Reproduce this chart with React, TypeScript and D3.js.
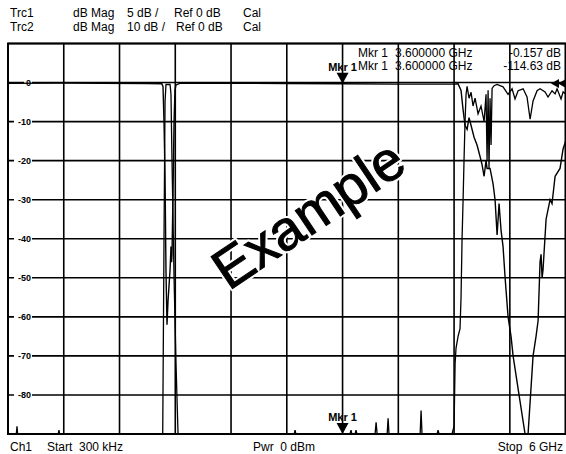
import React, { useEffect, useRef } from 'react';
import * as d3 from 'd3';

// Header / footer annotation text
const trc1Header = ['Trc1', 'dB Mag', '5 dB /', 'Ref 0 dB', 'Cal'];
const trc2Header = ['Trc2', 'dB Mag', '10 dB /', 'Ref 0 dB', 'Cal'];
const footer = ['Ch1', 'Start  300 kHz', 'Pwr  0 dBm', 'Stop  6 GHz'];

// Sweep (GHz)
const startGHz = 0.0003;
const stopGHz = 6;

// Marker 1
const mkrFreq = 3.6;
const mkrTrc1 = -0.157;
const mkrTrc2 = -114.63;

// Trc1, 5 dB/div, [GHz, dB]
const trc1: [number, number][] = [
  [0.0003, -0.1], [0.6, -0.05], [1.0, -0.1], [1.5, -0.12], [1.655, -0.15],
  [1.668, -0.5], [1.679, -5], [1.69, -12], [1.7, -24], [1.711, -31], [1.722, -28],
  [1.733, -26], [1.744, -24], [1.754, -21], [1.76, -23], [1.765, -22], [1.776, -14],
  [1.787, -5], [1.797, -1], [1.808, -0.3], [1.85, -0.1],
  [2.5, -0.1], [3.0, -0.12], [3.6, -0.157], [4.2, -0.2], [4.6, -0.2], [4.8, -0.2], [4.843, -0.15],
  [4.875, -1], [4.897, -3.5], [4.918, -5.5], [4.94, -6], [4.961, -4.5], [4.983, -5.5],
  [5.015, -7], [5.047, -8], [5.08, -9.5], [5.101, -10.5], [5.123, -12], [5.144, -10],
  [5.155, -11], [5.187, -11], [5.22, -13], [5.241, -15], [5.263, -19.5], [5.284, -15.5],
  [5.306, -19], [5.327, -21], [5.349, -25], [5.381, -30], [5.413, -32.5], [5.435, -35],
  [5.499, -40], [5.564, -46],
  [5.596, -45], [5.65, -35], [5.682, -32.5], [5.704, -30.5], [5.725, -23], [5.736, -22],
  [5.747, -25], [5.757, -24], [5.79, -17.5], [5.833, -15], [5.854, -15.5], [5.887, -12],
  [5.94, -11], [5.973, -8.5], [6.0, -7.5],
];

// Trc2, 10 dB/div, [GHz, dB]
const trc2: [number, number][] = [
  [0.0003, -100], [0.09, -100], [0.097, -88], [0.104, -100], [0.54, -100], [0.549, -89],
  [0.556, -100], [1.655, -100], [1.665, -90], [1.679, -40], [1.69, -5], [1.7, -0.5],
  [1.744, -0.5], [1.754, -3], [1.765, -20], [1.787, -50], [1.808, -72], [1.83, -90],
  [1.851, -100],
  [3.08, -100], [3.089, -89], [3.098, -100], [3.68, -100], [3.691, -89], [3.7, -100],
  [3.735, -100], [3.745, -89], [3.755, -100], [3.95, -100], [3.961, -87], [3.972, -100],
  [4.08, -100], [4.09, -86], [4.1, -100], [4.435, -100], [4.445, -84], [4.455, -100],
  [4.618, -100], [4.628, -89], [4.638, -100],
  [4.778, -100], [4.8, -88], [4.811, -72], [4.821, -68], [4.843, -65], [4.864, -63],
  [4.875, -55], [4.886, -40], [4.897, -30], [4.907, -20], [4.918, -10], [4.929, -3],
  [4.94, -1], [4.961, -4], [4.983, -2.5], [5.004, -6], [5.026, -4], [5.058, -8],
  [5.09, -6], [5.123, -10], [5.144, -3], [5.155, -20], [5.166, -2], [5.176, -22],
  [5.187, -4], [5.198, -16], [5.209, -1.5], [5.23, -0.8], [5.263, -0.5], [5.327, -1.1],
  [5.381, -3], [5.424, -1.6], [5.456, -4.2], [5.489, -2.1], [5.543, -1.6], [5.585, -3.7],
  [5.618, -9.4], [5.65, -4.7], [5.693, -2.1], [5.725, -1.6], [5.779, -2.4], [5.811, -3.7],
  [5.854, -2.1], [5.887, -2.9], [5.908, -1.6], [5.951, -4.2], [5.973, -2.4], [6.0, -2.9],
];

const FONT = '"Liberation Sans", Arial, sans-serif';

const VnaPlot: React.FC<{ width?: number; height?: number }> = ({ width = 566, height = 454 }) => {
  const svgRef = useRef<SVGSVGElement>(null);

  useEffect(() => {
    if (!svgRef.current) return;
    const svg = d3.select(svgRef.current);
    svg.selectAll('*').remove();

    const left = 8;
    const right = 565.6;
    const top = 43.5;
    const bottom = 434;

    const x = d3.scaleLinear().domain([startGHz, stopGHz]).range([left, right]);
    const y1 = d3.scaleLinear().domain([5, -45]).range([top, bottom]).clamp(true);
    const y2 = d3.scaleLinear().domain([10, -90]).range([top, bottom]).clamp(true);

    svg.append('rect').attr('width', width).attr('height', height).attr('fill', '#fff');

    // Header
    const cols = [10, 73, 127, 174, 243];
    [trc1Header, trc2Header].forEach((row, r) => {
      row.forEach((t, i) => {
        svg.append('text')
          .attr('x', cols[i] + (r === 1 && i === 3 ? 2 : 0))
          .attr('y', 17 + r * 14)
          .attr('font-family', FONT)
          .attr('font-size', 12)
          .attr('fill', '#000')
          .text(t);
      });
    });

    // Grid
    const g = svg.append('g');
    const xDivs = d3.range(11).map(i => x(startGHz + (i * (stopGHz - startGHz)) / 10));
    g.selectAll('line.v')
      .data(xDivs)
      .join('line')
      .attr('x1', d => d).attr('x2', d => d)
      .attr('y1', top).attr('y2', bottom)
      .attr('stroke', '#000').attr('stroke-width', 1.6);
    g.selectAll('line.h')
      .data(d3.range(10, -91, -10))
      .join('line')
      .attr('x1', left).attr('x2', right)
      .attr('y1', d => y2(d)).attr('y2', d => y2(d))
      .attr('stroke', '#000').attr('stroke-width', 1.6);
    g.append('rect')
      .attr('x', left).attr('y', top)
      .attr('width', right - left).attr('height', bottom - top)
      .attr('fill', 'none').attr('stroke', '#000').attr('stroke-width', 2);

    // Y labels (10 dB/div)
    const labels = g.selectAll('g.lbl')
      .data(d3.range(0, -81, -10))
      .join('g')
      .attr('transform', d => `translate(31,${y2(d)})`);
    labels.append('rect')
      .attr('x', d => (d === 0 ? -7 : -17)).attr('y', -4)
      .attr('width', d => (d === 0 ? 8 : 18)).attr('height', 8)
      .attr('fill', '#fff');
    labels.append('text')
      .attr('text-anchor', 'end')
      .attr('dy', '0.35em')
      .attr('font-family', FONT)
      .attr('font-size', 9)
      .attr('font-weight', 'bold')
      .text(d => `${d}`);

    // Watermark: white halo, then heavy black glyphs
    const wm = svg.append('g').attr('transform', 'translate(308,214) rotate(-34)');
    wm.append('text')
      .attr('text-anchor', 'middle')
      .attr('dy', '0.35em')
      .attr('font-family', FONT)
      .attr('font-size', 56)
      .attr('fill', '#000')
      .attr('stroke', '#fff')
      .attr('stroke-width', 5)
      .attr('stroke-linejoin', 'round')
      .text('Example');
    wm.append('text')
      .attr('text-anchor', 'middle')
      .attr('dy', '0.35em')
      .attr('font-family', FONT)
      .attr('font-size', 56)
      .attr('fill', '#000')
      .attr('stroke', '#000')
      .attr('stroke-width', 1)
      .text('Example');

    // Traces
    const line1 = d3.line<[number, number]>().x(d => x(d[0])).y(d => y1(d[1]));
    const line2 = d3.line<[number, number]>().x(d => x(d[0])).y(d => y2(d[1]));
    svg.append('path').datum(trc2)
      .attr('fill', 'none').attr('stroke', '#000').attr('stroke-width', 1.3)
      .attr('d', line2);
    svg.append('path').datum(trc1)
      .attr('fill', 'none').attr('stroke', '#000').attr('stroke-width', 1.4)
      .attr('d', line1);

    // Reference level arrows at right edge
    [551, 558].forEach(tx => {
      svg.append('path')
        .attr('d', `M${tx},${y2(0) + 1}l8,-4.5v9z`)
        .attr('fill', '#000');
    });

    // Marker 1 (Trc1 at top, Trc2 clamped at bottom)
    const mx = x(mkrFreq);
    const m1y = y1(mkrTrc1);
    const m2y = y2(mkrTrc2);
    [m1y, m2y].forEach(ty => {
      svg.append('path')
        .attr('d', `M${mx},${ty}l-6,-11h12z`)
        .attr('fill', '#000');
      svg.append('text')
        .attr('x', mx)
        .attr('y', ty - 13)
        .attr('text-anchor', 'middle')
        .attr('font-family', FONT)
        .attr('font-size', 11)
        .attr('font-weight', 'bold')
        .text('Mkr 1');
    });

    // Marker readout
    [[mkrTrc1, 'dB'], [mkrTrc2, 'dB']].forEach(([v, u], i) => {
      const by = 57 + i * 13;
      const row = svg.append('g').attr('font-family', FONT).attr('font-size', 12);
      row.append('text').attr('x', 358).attr('y', by).text('Mkr 1');
      row.append('text').attr('x', 395).attr('y', by).text(`${mkrFreq.toFixed(6)} GHz`);
      row.append('text').attr('x', 561).attr('y', by).attr('text-anchor', 'end').text(`${v} ${u}`);
    });

    // Footer
    const footX = [10, 47, 253, 563];
    footer.forEach((t, i) => {
      svg.append('text')
        .attr('x', footX[i])
        .attr('y', 451)
        .attr('text-anchor', i === 3 ? 'end' : 'start')
        .attr('font-family', FONT)
        .attr('font-size', 12)
        .style('white-space', 'pre')
        .text(t);
    });
  }, [width, height]);

  return (
    <svg
      ref={svgRef}
      width={width}
      height={height}
      style={{ position: 'absolute', left: 0, top: 0, display: 'block' }}
    />
  );
};

export default function App() {
  return <VnaPlot />;
}
